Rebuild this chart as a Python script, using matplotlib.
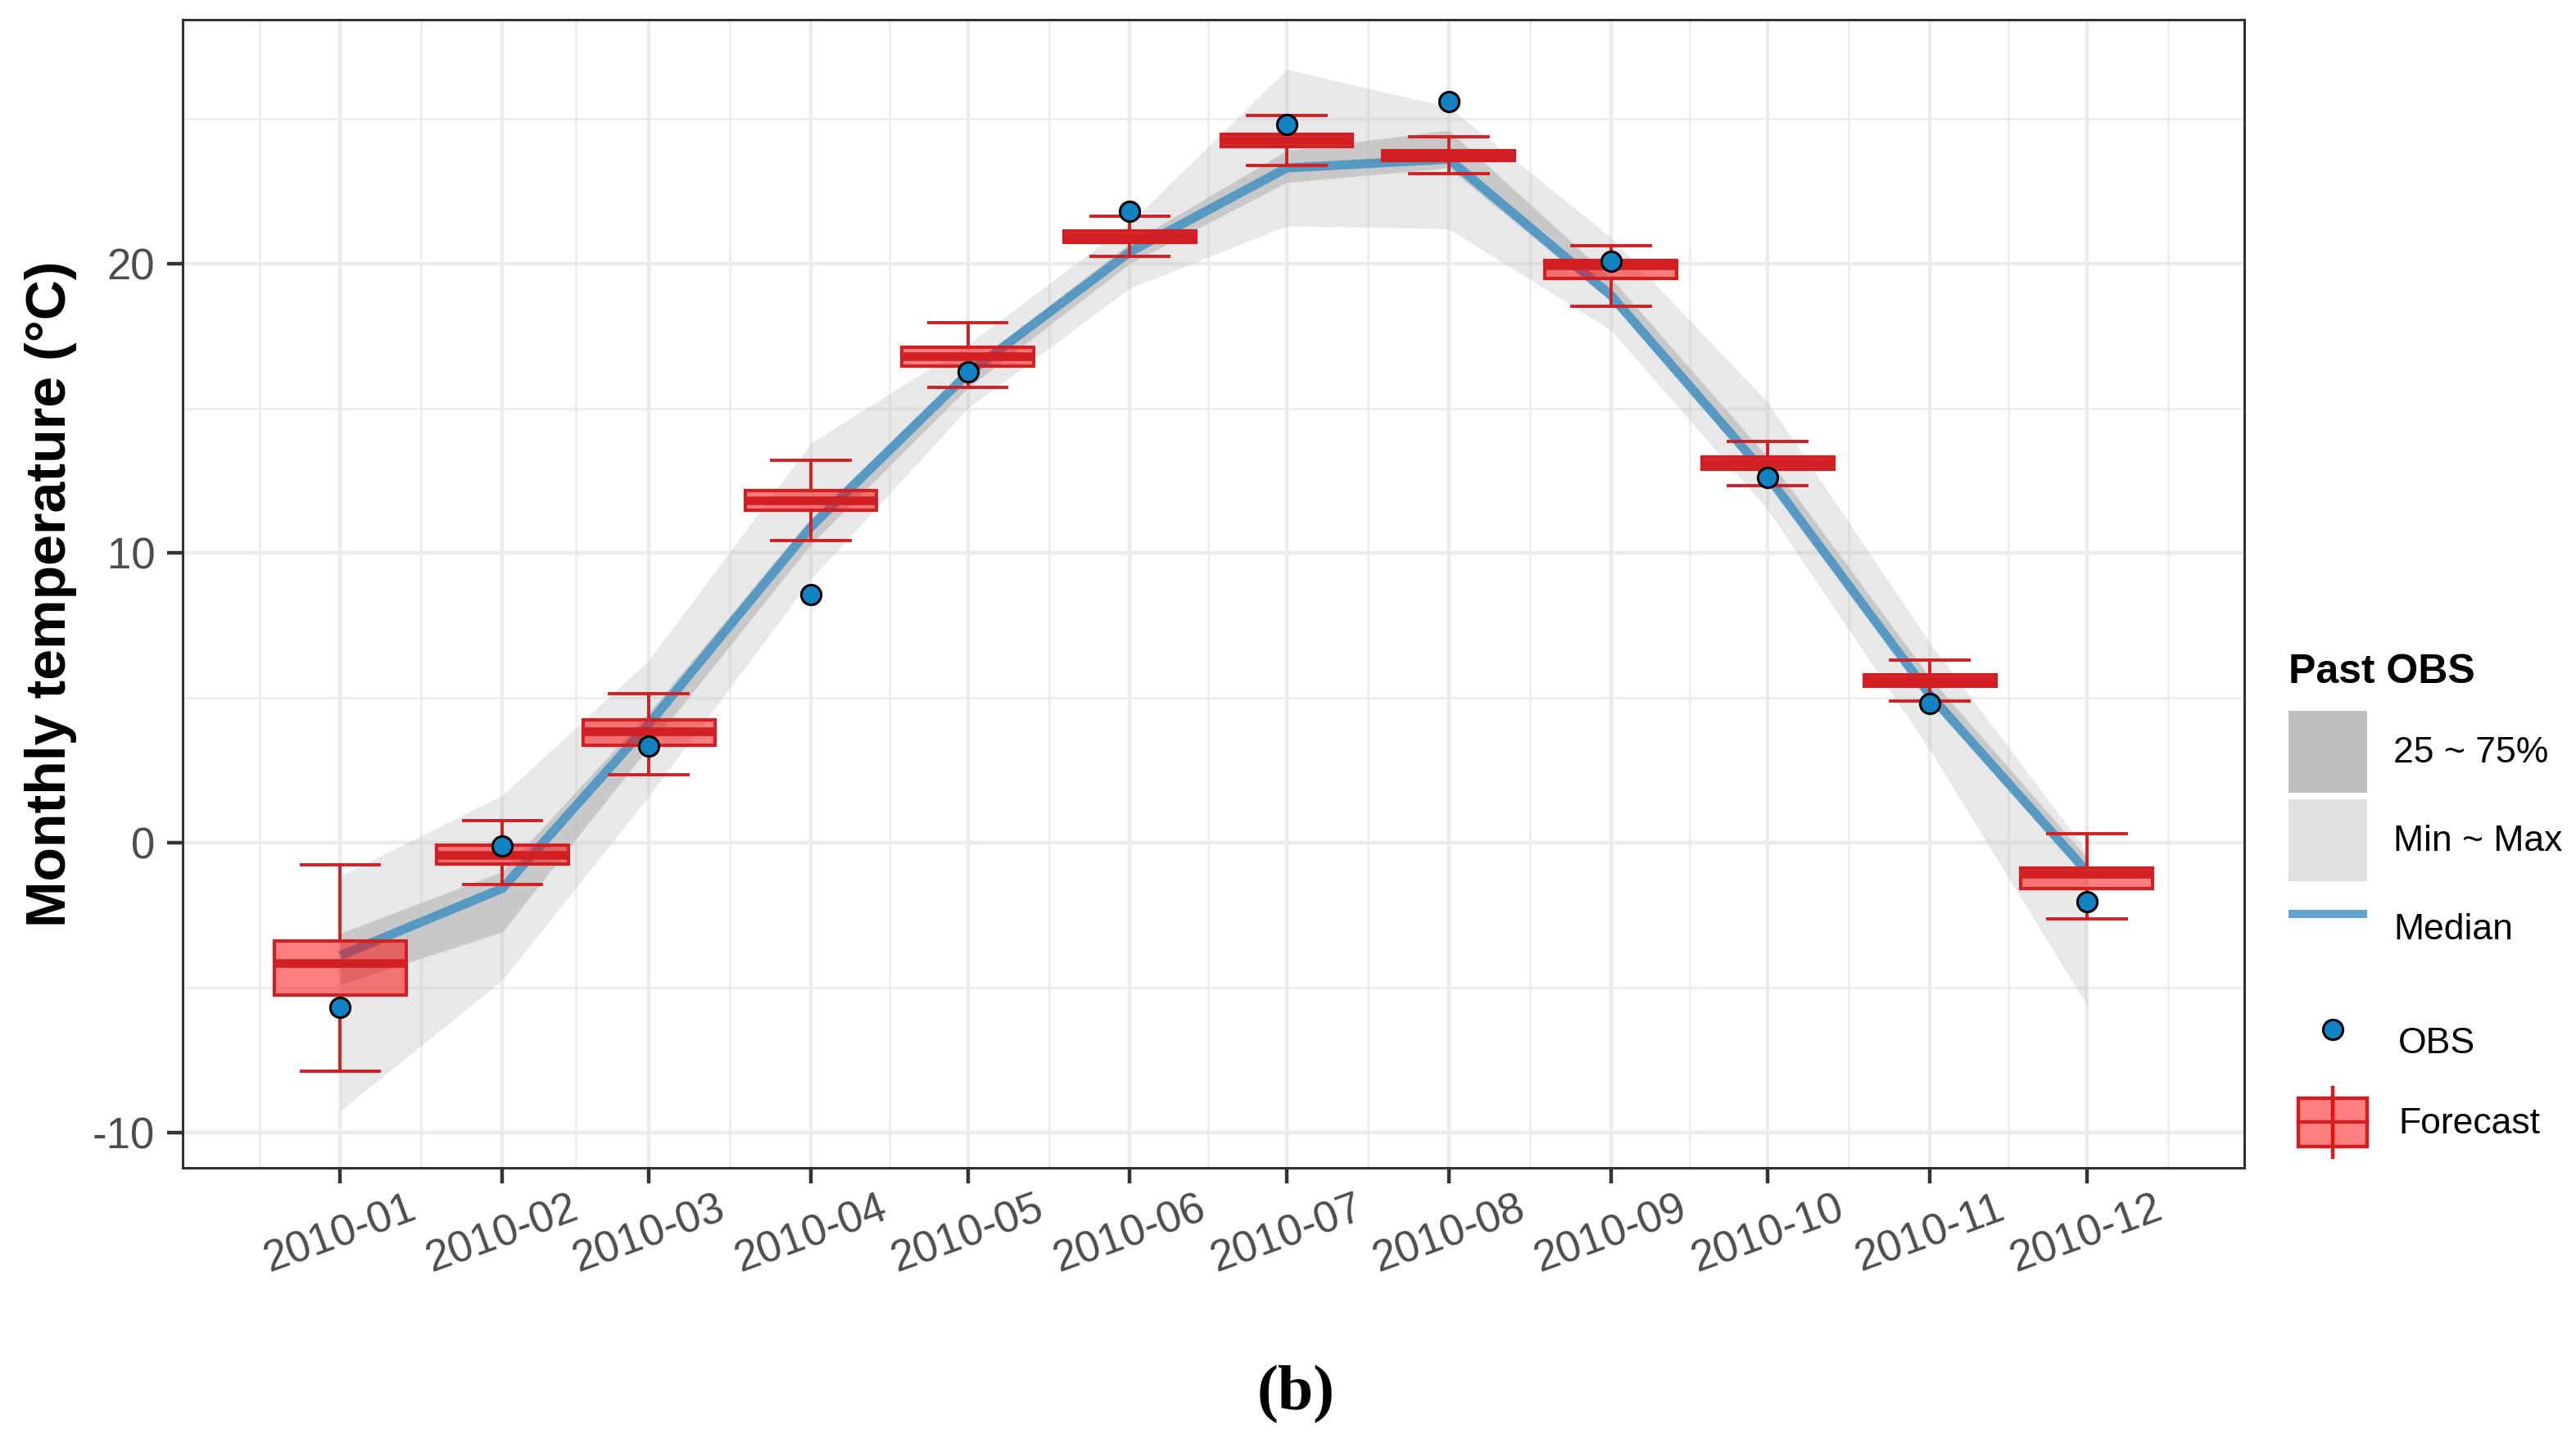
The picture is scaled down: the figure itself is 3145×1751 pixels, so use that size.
import numpy as np
import matplotlib
matplotlib.use("Agg")
import matplotlib.pyplot as plt
import matplotlib.dates as mdates
from matplotlib.patches import Patch, Rectangle
from matplotlib.lines import Line2D
from matplotlib.legend_handler import HandlerBase

plt.rcParams['font.family'] = ['Liberation Sans', 'DejaVu Sans']
plt.rcParams['axes.unicode_minus'] = False

# ---------------- data ----------------
months = np.array(['2010-01-01', '2010-02-01', '2010-03-01', '2010-04-01',
                   '2010-05-01', '2010-06-01', '2010-07-01', '2010-08-01',
                   '2010-09-01', '2010-10-01', '2010-11-01', '2010-12-01'],
                  dtype='datetime64[D]')
tick_labels = ['2010-01', '2010-02', '2010-03', '2010-04', '2010-05', '2010-06',
               '2010-07', '2010-08', '2010-09', '2010-10', '2010-11', '2010-12']

# Past observations (climatology) ribbons and median
past_min = [-9.26, -4.74, 1.6, 9.1, 15.0, 19.15, 21.3, 21.2, 17.7, 11.5, 3.2, -5.6]
past_q25 = [-4.9, -3.08, 3.3, 10.3, 15.7, 20.0, 22.8, 23.3, 18.7, 12.45, 4.9, -1.2]
past_median = [-3.9, -1.58, 4.1, 10.9, 16.2, 20.4, 23.3, 23.6, 18.9, 12.65, 5.1, -1.0]
past_q75 = [-3.13, -1.0, 4.5, 11.2, 16.4, 20.7, 23.9, 24.6, 19.5, 13.3, 5.7, -0.5]
past_max = [-1.15, 1.63, 6.3, 13.8, 17.2, 21.4, 26.7, 25.4, 20.9, 15.2, 6.9, -0.3]

# Observed monthly temperature
obs = [-5.7, -0.12, 3.34, 8.56, 16.26, 21.81, 24.8, 25.59, 20.08, 12.62, 4.81, -2.04]

# Forecast distribution (boxplot statistics)
fc_whislo = [-7.88, -1.45, 2.35, 10.43, 15.71, 20.26, 23.4, 23.09, 18.52, 12.32, 4.9, -2.63]
fc_q1 = [-5.25, -0.74, 3.37, 11.48, 16.47, 20.74, 24.03, 23.56, 19.48, 12.89, 5.4, -1.59]
fc_med = [-4.17, -0.42, 3.83, 11.82, 16.8, 20.92, 24.25, 23.73, 19.93, 13.11, 5.6, -1.08]
fc_q3 = [-3.4, -0.09, 4.24, 12.17, 17.11, 21.11, 24.46, 23.9, 20.11, 13.33, 5.79, -0.87]
fc_whishi = [-0.77, 0.75, 5.15, 13.21, 17.95, 21.62, 25.1, 24.38, 20.61, 13.85, 6.31, 0.3]

# ---------------- style ----------------
RED = '#D21F24'
BOXFILL = (1.0, 0.0, 0.0, 0.5)
BLUE = '#3A8FC4'
PT_BLUE = '#1183C3'
GRID = '#EBEBEB'
DARK = '#333333'
TXT = '#4D4D4D'

W, H, DPI = 3145, 1751, 200
fig = plt.figure(figsize=(W / DPI, H / DPI), dpi=DPI)
ax = fig.add_axes([0.07081, 0.18561, 0.80057, 0.80068])

xnum = mdates.date2num(months)

ax.fill_between(months, past_min, past_max, color='#BEBEBE', alpha=0.35,
                linewidth=0, zorder=1)
ax.fill_between(months, past_q25, past_q75, color='#BEBEBE', alpha=0.75,
                linewidth=0, zorder=1.1)
ax.plot(months, past_median, color=BLUE, alpha=0.8, linewidth=4.0,
        solid_capstyle='butt', solid_joinstyle='miter', zorder=2)

stats = [dict(med=m, q1=a, q3=b, whislo=lo, whishi=hi, fliers=[])
         for m, a, b, lo, hi in zip(fc_med, fc_q1, fc_q3, fc_whislo, fc_whishi)]
ax.bxp(stats, positions=xnum, widths=25.2, capwidths=15, patch_artist=True,
       showfliers=False, manage_ticks=False,
       boxprops=dict(facecolor=BOXFILL, edgecolor=RED, linewidth=1.5),
       medianprops=dict(color=RED, linewidth=3.8, solid_capstyle='butt'),
       whiskerprops=dict(color=RED, linewidth=1.4),
       capprops=dict(color=RED, linewidth=1.4),
       zorder=3)

ax.plot(months, obs, linestyle='none', marker='o', markersize=8.7,
        markerfacecolor=PT_BLUE, markeredgecolor='black', markeredgewidth=1.1,
        zorder=4)

# ---------------- axes ----------------
ax.set_xlim(xnum[0] - 30.2, xnum[-1] + 30.2)
ax.set_ylim(-11.23, 28.42)

ax.set_xticks(xnum)
ax.set_xticklabels(tick_labels)
edges = mdates.date2num(np.arange('2009-12', '2011-02', dtype='datetime64[M]').astype('datetime64[D]'))
ax.set_xticks((edges[:-1] + edges[1:]) / 2, minor=True)
ax.set_yticks([-10, 0, 10, 20])
ax.set_yticklabels(['-10', '0', '10', '20'])
ax.set_yticks([-5, 5, 15, 25], minor=True)

ax.set_axisbelow(True)
ax.grid(which='major', color=GRID, linewidth=1.6)
ax.grid(which='minor', color=GRID, linewidth=0.9)
for s in ax.spines.values():
    s.set_color(DARK)
    s.set_linewidth(1.1)

ax.tick_params(which='major', length=7, width=1.6, color=DARK,
               labelsize=19, labelcolor=TXT)
ax.tick_params(axis='y', which='major', pad=5)
ax.tick_params(axis='x', which='major', pad=2)
ax.tick_params(which='minor', length=0)
for lab in ax.get_xticklabels():
    lab.set_rotation(20)
    lab.set_ha('center')
    lab.set_va('top')

ax.set_ylabel('Monthly temperature (°C)', fontsize=24.5, fontweight='bold',
              color='black')
ax.yaxis.set_label_coords(-0.051, 0.5)

# ---------------- legends ----------------
class BoxHandler(HandlerBase):
    def create_artists(self, legend, orig_handle, xdescent, ydescent, width,
                       height, fontsize, trans):
        x0, y0 = -xdescent, -ydescent
        bw = width * 0.88
        bx = x0 + (width - bw) / 2
        bh = height * 0.66
        by = y0 + (height - bh) / 2
        wl = Line2D([x0 + width / 2] * 2, [y0 + height * 0.02, y0 + height * 0.98],
                    color=RED, linewidth=1.6, transform=trans)
        rect = Rectangle((bx, by), bw, bh, facecolor=BOXFILL, edgecolor=RED,
                         linewidth=1.6, transform=trans)
        med = Line2D([bx, bx + bw], [y0 + height / 2] * 2, color=RED,
                     linewidth=1.6, transform=trans)
        return [wl, rect, med]

h1 = [Patch(facecolor='#BEBEBE', edgecolor='none'),
      Patch(facecolor='#E0E0E0', edgecolor='none'),
      Line2D([0, 1], [0, 0], color=BLUE, alpha=0.8, linewidth=3.6,
             solid_capstyle='butt')]
l1 = ['25 ~ 75%', 'Min ~ Max', 'Median']
leg1 = fig.legend(h1, l1, title='Past OBS', loc='upper left',
                  bbox_to_anchor=(0.8884, 0.5443), frameon=False, fontsize=16,
                  title_fontproperties=dict(size=18, weight='bold'),
                  handlelength=2.16, handleheight=3.085, labelspacing=0.18,
                  handletextpad=0.72, borderpad=0, borderaxespad=0,
                  alignment='left')
leg1._legend_box.sep = 8.7

obs_handle = Line2D([], [], linestyle='none', marker='o', markersize=8.7,
                    markerfacecolor=PT_BLUE, markeredgecolor='black',
                    markeredgewidth=1.1)
box_handle = Rectangle((0, 0), 1, 1)
leg2 = fig.legend([obs_handle, box_handle], ['OBS', 'Forecast'],
                  loc='upper left', bbox_to_anchor=(0.8903, 0.2987),
                  frameon=False, fontsize=16, handlelength=2.16,
                  handleheight=2.7, labelspacing=0.2, handletextpad=0.72,
                  borderpad=0, borderaxespad=0,
                  handler_map={Rectangle: BoxHandler()})

fig.text(0.5032, 0.0275, '(b)', ha='center', va='center', fontsize=28,
         fontweight='bold', family=['Liberation Serif', 'DejaVu Serif'])

fig.savefig('out.png', dpi=DPI)
